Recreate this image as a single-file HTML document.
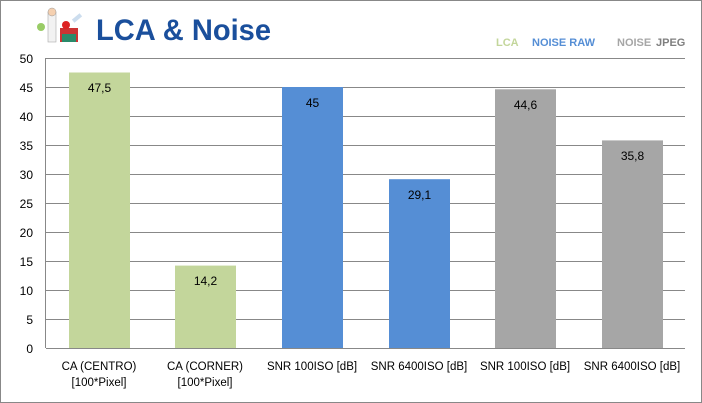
<!DOCTYPE html>
<html><head><meta charset="utf-8"><style>
html,body{margin:0;padding:0;background:#fff}
svg{display:block}
text{font-family:"Liberation Sans",sans-serif}
</style></head><body>
<svg width="702" height="403" viewBox="0 0 702 403" xmlns="http://www.w3.org/2000/svg">
<rect x="0.5" y="0.5" width="701" height="402" fill="#fff" stroke="#888" stroke-width="1"/>
<!-- icon -->
<g>
<rect x="48" y="12" width="8" height="30" fill="#f2f2f2" stroke="#aaa" stroke-width="0.6"/>
<circle cx="52" cy="12" r="4" fill="#f5d0b0" stroke="#999" stroke-width="0.5"/>
<circle cx="41" cy="27" r="4" fill="#9c6" />
<rect x="60" y="28" width="18" height="14" fill="#c33"/>
<rect x="62" y="34" width="14" height="8" fill="#2a8a6a"/>
<circle cx="66" cy="25" r="4" fill="#d22"/>
<rect x="72" y="16" width="10" height="4" fill="#cde" transform="rotate(-40 77 18)"/>
</g>
<text x="96" y="40" font-size="30" font-weight="bold" fill="#1a4f9c" font-family="'DejaVu Sans','Liberation Sans',sans-serif" textLength="175" lengthAdjust="spacingAndGlyphs">LCA &amp; Noise</text>
<text x="496" y="46" font-size="11" font-weight="bold" fill="#c3d69b">LCA</text>
<text x="532" y="46" font-size="11" font-weight="bold" fill="#558ed5">NOISE RAW</text>
<text x="617" y="46" font-size="11" font-weight="bold" fill="#a6a6a6">NOISE</text>
<text x="656" y="46" font-size="11" font-weight="bold" fill="#7f7f7f">JPEG</text>
<!-- grid -->
<g stroke="#888" stroke-width="1">
<line x1="46" y1="58.5" x2="685" y2="58.5"/>
<line x1="46" y1="87.5" x2="685" y2="87.5"/>
<line x1="46" y1="116.5" x2="685" y2="116.5"/>
<line x1="46" y1="145.5" x2="685" y2="145.5"/>
<line x1="46" y1="174.5" x2="685" y2="174.5"/>
<line x1="46" y1="203.5" x2="685" y2="203.5"/>
<line x1="46" y1="232.5" x2="685" y2="232.5"/>
<line x1="46" y1="261.5" x2="685" y2="261.5"/>
<line x1="46" y1="290.5" x2="685" y2="290.5"/>
<line x1="46" y1="319.5" x2="685" y2="319.5"/>
<line x1="46" y1="348.5" x2="685" y2="348.5"/>
<line x1="45.5" y1="58" x2="45.5" y2="348"/>
</g>
<g font-size="12" fill="#000" text-anchor="end">
<text x="33" y="63">50</text><text x="33" y="92">45</text><text x="33" y="121">40</text>
<text x="33" y="150">35</text><text x="33" y="179">30</text><text x="33" y="208">25</text>
<text x="33" y="237">20</text><text x="33" y="266">15</text><text x="33" y="295">10</text>
<text x="33" y="324">5</text><text x="33" y="353">0</text>
</g>
<rect x="69" y="72.5" width="61" height="275.5" fill="#c3d69b"/>
<rect x="175" y="265.6" width="61" height="82.4" fill="#c3d69b"/>
<rect x="282" y="87" width="61" height="261" fill="#558ed5"/>
<rect x="389" y="179.2" width="61" height="168.8" fill="#558ed5"/>
<rect x="495" y="89.3" width="61" height="258.7" fill="#a6a6a6"/>
<rect x="602" y="140.4" width="61" height="207.6" fill="#a6a6a6"/>
<g font-size="12" fill="#000" text-anchor="middle">
<text x="99.5" y="92">47,5</text>
<text x="205.5" y="285">14,2</text>
<text x="312.5" y="107">45</text>
<text x="419.5" y="199">29,1</text>
<text x="525.5" y="109">44,6</text>
<text x="632.5" y="160">35,8</text>
</g>
<g font-size="11.5" fill="#000" text-anchor="middle">
<text x="99" y="370">CA (CENTRO)</text><text x="99" y="386">[100*Pixel]</text>
<text x="205" y="370">CA (CORNER)</text><text x="205" y="386">[100*Pixel]</text>
<text x="312" y="370">SNR 100ISO [dB]</text>
<text x="419" y="370">SNR 6400ISO [dB]</text>
<text x="525" y="370">SNR 100ISO [dB]</text>
<text x="632" y="370">SNR 6400ISO [dB]</text>
</g>
</svg>
</body></html>
